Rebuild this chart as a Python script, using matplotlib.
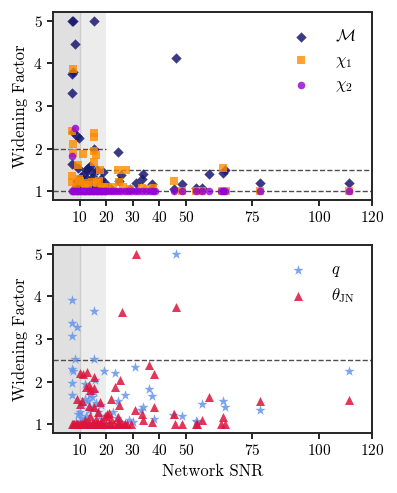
import matplotlib
matplotlib.use("Agg")
import matplotlib.pyplot as plt

plt.rcParams['font.family'] = 'serif'
plt.rcParams['font.serif'] = ['cmr10', 'DejaVu Serif']
plt.rcParams['mathtext.fontset'] = 'cm'
plt.rcParams['axes.formatter.use_mathtext'] = True
plt.rcParams['axes.unicode_minus'] = False

# --- chirp mass (M) ---
mc_snr = [7.2, 7.6, 15.5, 8.2, 7.2, 7.4, 7.0, 7.6, 8.9, 9.6, 15.6, 24.4, 46.1, 7.2, 9.5,
          10.5, 11.5, 12.3, 13.0, 13.8, 12.8, 14.5, 15.0, 16.6, 17.5, 18.8, 19.5, 10.0, 11.0,
          14.0, 16.0, 8.5, 20.5, 22.0, 25.7, 25.0, 33.8, 33.6, 37.3, 31.4, 45.6, 48.7, 53.7,
          56.2, 58.7, 64.0, 64.8, 78.0, 111.4, 9.0, 13.5, 18.0, 29.0]
mc_wf = [5.0, 5.0, 5.0, 4.45, 3.74, 3.8, 3.3, 2.4, 2.3, 2.25, 2.0, 1.92, 4.12, 1.65, 1.55,
         1.35, 1.4, 1.5, 1.55, 1.6, 1.3, 1.45, 1.35, 1.5, 1.25, 1.45, 1.2, 1.15, 1.25,
         1.15, 1.1, 1.1, 1.1, 1.05, 1.38, 1.25, 1.42, 1.3, 1.18, 1.2, 1.05, 1.18, 1.08,
         1.08, 1.40, 1.43, 1.5, 1.2, 1.2, 1.25, 1.05, 1.3, 1.05]

# --- chi_1 ---
chi1_snr = [7.4, 7.1, 15.6, 15.3, 7.6, 15.4, 16.0, 11.2, 7.6, 9.3, 15.6, 17.6, 24.4, 27.3,
            24.9, 7.2, 7.2, 45.5, 64.0, 22.6, 29.0, 37.7, 10.2, 11.8, 13.0, 14.5, 16.5, 17.3,
            19.0, 8.5, 12.0, 18.5, 9.8, 20.5, 26.5, 33.5, 35.5, 48.7, 53.7, 56.2, 63.5, 65.0,
            78.0, 111.4]
chi1_wf = [3.86, 2.42, 2.38, 2.27, 2.12, 1.95, 1.85, 1.87, 1.9, 1.62, 1.68, 1.5, 1.5, 1.5,
           1.22, 1.37, 1.22, 1.24, 1.55, 1.1, 1.05, 1.08, 1.25, 1.2, 1.15, 1.22, 1.2, 1.25,
           1.1, 1.1, 1.05, 1.05, 1.3, 1.1, 1.1, 1.08, 1.05, 1.0, 1.0, 1.02, 1.0, 1.0,
           1.0, 1.0]

# --- chi_2 ---
chi2_snr = [8.2, 7.0, 7.0, 7.5, 8.0, 8.6, 9.1, 9.5, 10.2, 10.6, 11.1, 11.5, 12.2, 12.6, 13.0,
            13.6, 14.1, 14.5, 15.0, 15.6, 16.1, 16.4, 17.0, 17.6, 18.1, 18.4, 19.0, 19.6, 20.1,
            21.0, 22.2, 23.5, 24.5, 25.6, 27.0, 28.1, 29.5, 31.0, 32.1, 33.5, 35.0, 36.4,
            37.5, 38.4, 45.6, 48.7, 53.7, 56.2, 58.7, 63.2, 64.0, 64.8, 78.0, 111.4]
chi2_wf = [2.48, 1.83, 1.0, 1.01, 1.0, 1.02, 1.0, 1.01, 1.0, 1.0, 1.02, 1.0, 1.01, 1.0, 1.0,
           1.01, 1.0, 1.0, 1.02, 1.0, 1.01, 1.0, 1.0, 1.01, 1.0, 1.0, 1.02, 1.0, 1.0,
           1.01, 1.0, 1.0, 1.01, 1.0, 1.0, 1.0, 1.01, 1.0, 1.0, 1.0, 1.01, 1.0,
           1.0, 1.0, 1.0, 1.0, 1.0, 1.0, 1.0, 1.0, 1.0, 1.0, 1.0, 1.0]

# --- mass ratio q ---
q_snr = [46.1, 7.2, 7.0, 9.1, 7.2, 15.3, 8.1, 15.4, 7.2, 7.4, 19.0, 23.2, 31.0, 7.2, 36.1,
         37.4, 27.1, 7.2, 24.6, 38.1, 33.8, 33.0, 45.0, 48.7, 54.1, 53.7, 56.2, 64.0, 64.8,
         78.0, 111.4, 9.5, 10.2, 11.0, 12.0, 13.0, 14.0, 14.8, 15.5, 16.2, 13.5, 12.5, 11.5,
         10.5, 15.0, 16.8, 18.0, 17.5, 19.5, 20.5, 22.5, 24.0, 25.5, 28.5, 30.0, 8.5, 14.5,
         12.0, 15.8]
q_wf = [5.0, 3.92, 3.38, 3.29, 3.06, 3.65, 2.53, 2.53, 2.30, 2.25, 2.25, 2.2, 2.35, 1.98, 1.83,
        1.67, 1.7, 1.68, 1.55, 1.12, 1.42, 1.35, 1.22, 1.2, 1.05, 1.08, 1.47, 1.54, 1.42,
        1.34, 2.25, 1.25, 1.3, 1.5, 1.6, 1.55, 1.7, 1.65, 1.75, 1.5, 1.35, 1.2, 1.1,
        1.15, 1.4, 1.3, 1.45, 1.2, 1.1, 1.2, 1.3, 1.15, 1.05, 1.1, 1.05, 1.05, 1.0,
        1.95, 2.05]

# --- inclination theta_JN ---
th_snr = [31.3, 46.4, 25.8, 36.1, 38.1, 10.0, 12.8, 11.3, 15.6, 12.5, 13.5, 15.4, 13.8, 25.3,
          23.5, 21.9, 17.5, 9.0, 10.0, 11.0, 24.7, 38.1, 31.0, 33.6, 33.9, 37.4, 45.6, 46.0,
          48.7, 54.0, 15.4, 13.5, 20.3, 21.2, 24.5, 29.3, 53.7, 56.2, 58.7, 63.2, 64.8, 64.0,
          78.0, 111.4, 7.0, 7.5, 8.0, 8.5, 9.0, 9.5, 10.0, 10.5, 11.0, 11.5, 12.0, 12.5, 13.0,
          13.5, 14.0, 14.5, 15.0, 15.5, 16.0, 16.5, 17.0, 17.5, 18.0, 18.5, 19.0, 20.0, 21.0,
          22.0, 23.0, 24.0, 25.0, 26.0, 27.0, 28.0, 12.0, 16.0, 18.0, 22.0, 25.0, 27.0, 17.0,
          19.5, 14.0]
th_wf = [5.0, 3.76, 3.64, 2.40, 2.17, 2.2, 2.22, 2.17, 2.12, 1.88, 1.93, 1.86, 1.8, 2.05,
         1.88, 1.6, 1.52, 1.6, 1.48, 1.55, 1.45, 1.42, 1.33, 1.24, 1.1, 1.05, 1.25, 1.0,
         1.0, 1.0, 1.4, 1.43, 1.25, 1.26, 1.18, 1.0, 1.0, 1.1, 1.64, 1.0, 1.0, 1.18,
         1.56, 1.58, 1.0, 1.0, 1.0, 1.0, 1.0, 1.0, 1.0, 1.0, 1.0, 1.0, 1.0, 1.0, 1.0,
         1.0, 1.0, 1.0, 1.0, 1.0, 1.0, 1.0, 1.0, 1.0, 1.0, 1.0, 1.0, 1.0, 1.0,
         1.0, 1.0, 1.0, 1.0, 1.0, 1.0, 1.0, 1.1, 1.12, 1.08, 1.12, 1.05, 1.02, 1.3,
         1.2, 1.2]

xticks = [10, 20, 30, 40, 50, 75, 100, 120]

fig = plt.figure(figsize=(3.97, 4.93), dpi=100)
ax1 = fig.add_axes([0.1335, 0.5943, 0.8035, 0.3813])
ax2 = fig.add_axes([0.1335, 0.1217, 0.8035, 0.3813])


def style(ax):
    ax.axvspan(0, 20, facecolor='0.5', alpha=0.15, lw=0, zorder=0)
    ax.axvspan(0, 10, facecolor='0.5', alpha=0.1, lw=0, zorder=0)
    ax.axvline(10, color='0.8', lw=1, zorder=0)
    ax.set_xlim(0, 120)
    ax.set_ylim(0.8, 5.2)
    ax.set_xticks(xticks)
    ax.set_yticks([1, 2, 3, 4, 5])
    ax.tick_params(labelsize=11, width=1.2, length=4)
    for s in ax.spines.values():
        s.set_linewidth(1.4)
        s.set_color('0.15')
    ax.set_ylabel('Widening Factor', fontsize=12, labelpad=4)


def legend(ax):
    ax.legend(loc='upper right', frameon=False, fontsize=12, labelspacing=0.45,
              handletextpad=1.2, borderaxespad=0.6, handlelength=1.6,
              bbox_to_anchor=(1.0, 1.0))


style(ax1)
ax1.plot([0, 20], [2, 2], ls='--', color='0.3', lw=1)
ax1.plot([20, 120], [1.5, 1.5], ls='--', color='0.3', lw=1)
ax1.axhline(1, ls='--', color='0.3', lw=1)
ax1.scatter(mc_snr, mc_wf, marker='D', s=28, color='midnightblue', alpha=0.85, lw=0,
            label=r'$\mathcal{M}$', zorder=3)
ax1.scatter(chi1_snr, chi1_wf, marker='s', s=30, color='darkorange', alpha=0.8, lw=0,
            label=r'$\chi_1$', zorder=3)
ax1.scatter(chi2_snr, chi2_wf, marker='o', s=30, color='darkviolet', alpha=0.8, lw=0,
            label=r'$\chi_2$', zorder=4)
legend(ax1)

style(ax2)
ax2.axhline(2.5, ls='--', color='0.3', lw=1)
ax2.scatter(q_snr, q_wf, marker='*', s=60, color='cornflowerblue', alpha=0.85, lw=0,
            label=r'$q$', zorder=3)
ax2.scatter(th_snr, th_wf, marker='^', s=42, color='crimson', alpha=0.85, lw=0,
            label=r'$\theta_{\rm JN}$', zorder=3)
legend(ax2)
ax2.set_xlabel('Network SNR', fontsize=12)

fig.savefig('out.png', dpi=100)
